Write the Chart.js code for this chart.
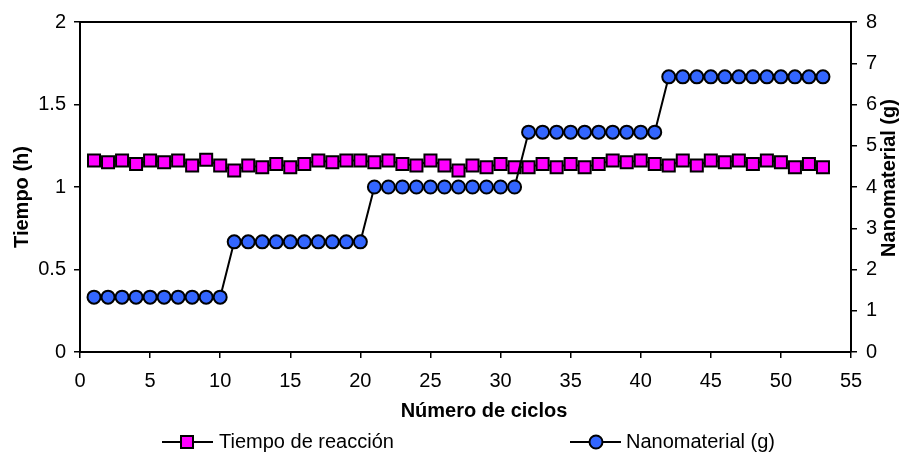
<!DOCTYPE html>
<html>
<head>
<meta charset="utf-8">
<script src="https://cdn.jsdelivr.net/npm/chart.js@4"></script>
<style>
  html, body { margin: 0; padding: 0; background: #fff; }
  #wrap { width: 904px; height: 456px; }
</style>
</head>
<body>
<div id="wrap"><canvas id="chart" width="904" height="456"></canvas></div>
<script>
// Cycle numbers (x axis)
const cycles = [1, 2, 3, 4, 5, 6, 7, 8, 9, 10,
  11, 12, 13, 14, 15, 16, 17, 18, 19, 20,
  21, 22, 23, 24, 25, 26, 27, 28, 29, 30,
  31, 32, 33, 34, 35, 36, 37, 38, 39, 40,
  41, 42, 43, 44, 45, 46, 47, 48, 49, 50,
  51, 52, 53];

// Reaction time per cycle (h) - left axis
const tiempoReaccion = [1.16, 1.15, 1.16, 1.14, 1.16, 1.15, 1.16, 1.13, 1.165, 1.13,
  1.10, 1.13, 1.12, 1.14, 1.12, 1.14, 1.16, 1.15, 1.16, 1.16,
  1.15, 1.16, 1.14, 1.13, 1.16, 1.13, 1.10, 1.13, 1.12, 1.14,
  1.12, 1.12, 1.14, 1.12, 1.14, 1.12, 1.14, 1.16, 1.15, 1.16,
  1.14, 1.13, 1.16, 1.13, 1.16, 1.15, 1.16, 1.14, 1.16, 1.15,
  1.12, 1.14, 1.12];

// Nanomaterial loaded per cycle (g) - right axis
const nanomaterial = [1.33, 1.33, 1.33, 1.33, 1.33, 1.33, 1.33, 1.33, 1.33, 1.33,
  2.67, 2.67, 2.67, 2.67, 2.67, 2.67, 2.67, 2.67, 2.67, 2.67,
  4, 4, 4, 4, 4, 4, 4, 4, 4, 4,
  4, 5.33, 5.33, 5.33, 5.33, 5.33, 5.33, 5.33, 5.33, 5.33,
  5.33, 6.67, 6.67, 6.67, 6.67, 6.67, 6.67, 6.67, 6.67, 6.67,
  6.67, 6.67, 6.67];

// Tick labels
const xTicks = [0, 5, 10, 15, 20, 25, 30, 35, 40, 45, 50, 55];
const tiempoTicks = [0, 0.5, 1, 1.5, 2];
const nanoTicks = [0, 1, 2, 3, 4, 5, 6, 7, 8];

const FONT = '"Liberation Sans", Arial, Helvetica, sans-serif';
const MAGENTA = '#FF00FF';
const BLUE = '#3366FF';

Chart.defaults.font.family = FONT;
Chart.defaults.font.size = 20;
Chart.defaults.color = '#000';

const toPoints = (xs, ys) => xs.map((x, i) => ({ x: x, y: ys[i] }));
const plainLabel = v => String(v);

// frame on top, axis titles and legend
const decorPlugin = {
  id: 'decor',
  afterDraw(chart) {
    const { ctx, chartArea: a } = chart;
    ctx.save();
    ctx.strokeStyle = '#000';
    ctx.lineWidth = 2;
    ctx.beginPath();
    ctx.moveTo(a.left, a.top);
    ctx.lineTo(a.right, a.top);
    ctx.stroke();

    ctx.fillStyle = '#000';
    ctx.textBaseline = 'middle';
    ctx.textAlign = 'center';
    ctx.font = 'bold 20px ' + FONT;
    ctx.fillText('Número de ciclos', 484, 411);

    ctx.save();
    ctx.translate(22, 197);
    ctx.rotate(-Math.PI / 2);
    ctx.fillText('Tiempo (h)', 0, 0);
    ctx.restore();

    ctx.save();
    ctx.translate(889, 178);
    ctx.rotate(-Math.PI / 2);
    ctx.fillText('Nanomaterial (g)', 0, 0);
    ctx.restore();

    // legend
    const ly = 442;
    ctx.lineWidth = 2;
    ctx.beginPath();
    ctx.moveTo(162, ly); ctx.lineTo(213, ly);
    ctx.moveTo(570, ly); ctx.lineTo(621, ly);
    ctx.stroke();

    ctx.fillStyle = MAGENTA;
    ctx.fillRect(181, ly - 6, 12, 12);
    ctx.strokeRect(181, ly - 6, 12, 12);

    ctx.fillStyle = BLUE;
    ctx.beginPath();
    ctx.arc(596, ly, 6.5, 0, Math.PI * 2);
    ctx.fill();
    ctx.stroke();

    ctx.fillStyle = '#000';
    ctx.textAlign = 'left';
    ctx.font = '20px ' + FONT;
    ctx.fillText('Tiempo de reacción', 219, ly);
    ctx.fillText('Nanomaterial (g)', 626, ly);
    ctx.restore();
  }
};

const tickGrid = {
  drawOnChartArea: false,
  drawTicks: true,
  tickLength: 6,
  tickColor: '#000',
  lineWidth: 1.5
};
const axisBorder = { display: true, color: '#000', width: 2 };

new Chart(document.getElementById('chart'), {
  type: 'line',
  data: {
    datasets: [
      {
        label: 'Tiempo de reacción',
        data: toPoints(cycles, tiempoReaccion),
        yAxisID: 'y',
        order: 2,
        borderColor: '#000',
        borderWidth: 2,
        pointStyle: 'rect',
        pointRadius: 8.5,
        pointBackgroundColor: MAGENTA,
        pointBorderColor: '#000',
        pointBorderWidth: 2
      },
      {
        label: 'Nanomaterial (g)',
        data: toPoints(cycles, nanomaterial),
        yAxisID: 'y2',
        order: 1,
        borderColor: '#000',
        borderWidth: 2,
        pointStyle: 'circle',
        pointRadius: 6.5,
        pointBackgroundColor: BLUE,
        pointBorderColor: '#000',
        pointBorderWidth: 2
      }
    ]
  },
  options: {
    responsive: false,
    animation: false,
    devicePixelRatio: 1,
    layout: { padding: { top: 22, left: 0, right: 0, bottom: 0 } },
    plugins: {
      legend: { display: false },
      tooltip: { enabled: false }
    },
    scales: {
      x: {
        type: 'linear',
        min: 0,
        max: 55,
        afterBuildTicks: s => { s.ticks = xTicks.map(v => ({ value: v })); },
        afterFit: s => { s.height = 104; },
        ticks: { padding: 11, maxRotation: 0, autoSkip: false, callback: plainLabel },
        grid: tickGrid,
        border: axisBorder
      },
      y: {
        position: 'left',
        min: 0,
        max: 2,
        afterBuildTicks: s => { s.ticks = tiempoTicks.map(v => ({ value: v })); },
        afterFit: s => { s.width = 80; },
        ticks: { padding: 8, callback: plainLabel },
        grid: tickGrid,
        border: axisBorder
      },
      y2: {
        position: 'right',
        min: 0,
        max: 8,
        afterBuildTicks: s => { s.ticks = nanoTicks.map(v => ({ value: v })); },
        afterFit: s => { s.width = 53; },
        ticks: { padding: 9, callback: plainLabel },
        grid: tickGrid,
        border: axisBorder
      }
    }
  },
  plugins: [decorPlugin]
});
</script>
</body>
</html>
